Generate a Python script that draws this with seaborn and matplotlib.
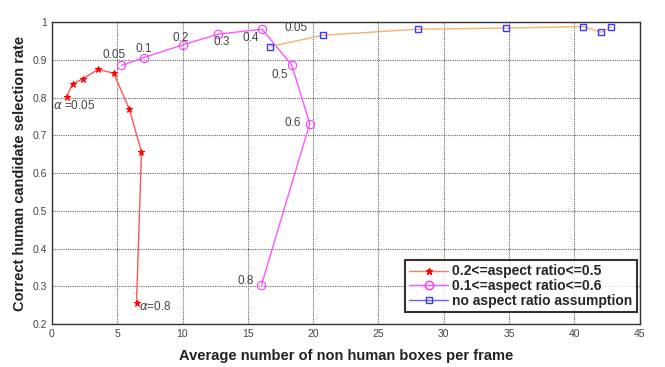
import matplotlib
matplotlib.use('Agg')
import matplotlib.pyplot as plt
import seaborn as sns
from matplotlib.lines import Line2D

# 0.2<=aspect ratio<=0.5
red_x = [1.12, 1.58, 2.40, 3.55, 4.74, 5.92, 6.86, 6.48]
red_y = [0.802, 0.836, 0.850, 0.875, 0.864, 0.770, 0.656, 0.257]

# 0.1<=aspect ratio<=0.6
mag_x = [5.33, 7.06, 10.05, 12.73, 16.09, 18.36, 19.74, 16.04]
mag_y = [0.885, 0.906, 0.940, 0.968, 0.981, 0.886, 0.731, 0.303]

# no aspect ratio assumption
blue_x = [16.70, 20.76, 28.03, 34.79, 40.65, 42.05, 42.82]
blue_y = [0.935, 0.965, 0.981, 0.984, 0.988, 0.973, 0.987]

labels = ['0.2<=aspect ratio<=0.5', '0.1<=aspect ratio<=0.6',
          'no aspect ratio assumption']

# threshold annotations (text, x, y)
notes = [('0.05', 3.9, 0.905), ('0.1', 6.4, 0.920), ('0.2', 9.2, 0.951),
         ('0.3', 12.4, 0.940), ('0.4', 14.6, 0.951), ('0.05', 17.8, 0.975),
         ('0.5', 16.8, 0.853), ('0.6', 17.8, 0.725), ('0.8', 14.2, 0.305),
         (r'$\alpha$ =0.05', 0.1, 0.770), (r'$\alpha$=0.8', 6.7, 0.237)]

sns.set_style('white')
plt.rcParams['font.family'] = ['Liberation Sans', 'DejaVu Sans']

fig = plt.figure(figsize=(6.65, 3.67), dpi=100)
ax = fig.add_axes([0.078, 0.117, 0.884, 0.823])

sns.lineplot(x=red_x, y=red_y, sort=False, ax=ax, color='#ff5555', lw=1,
             marker='*', markersize=4.5, markeredgecolor='red', markerfacecolor='red')
sns.lineplot(x=mag_x, y=mag_y, sort=False, ax=ax, color='#ff55ff', lw=1,
             marker='o', markersize=6, markeredgecolor='#ff33ff', markerfacecolor='none')
sns.lineplot(x=blue_x, y=blue_y, sort=False, ax=ax, color='#f8b070', lw=1,
             marker='s', markersize=5, markeredgecolor='#3a3aff', markerfacecolor='none',
             markeredgewidth=1)

for t, x, y in notes:
    ax.text(x, y, t, fontsize=8.5, color='#444444')

ax.set_xlim(0, 45)
ax.set_ylim(0.2, 1.0)
ax.set_xticks(range(0, 46, 5))
ax.set_yticks([0.2, 0.3, 0.4, 0.5, 0.6, 0.7, 0.8, 0.9, 1.0])
ax.set_yticklabels(['0.2', '0.3', '0.4', '0.5', '0.6', '0.7', '0.8', '0.9', '1'])
ax.tick_params(labelsize=7.5, colors='#444444', length=3, direction='in')
ax.grid(True, color='#666666', linestyle=(0, (1, 1)), linewidth=0.8)
for s in ax.spines.values():
    s.set_color('#333333')
    s.set_linewidth(1)

ax.set_xlabel('Average number of non human boxes per frame', fontsize=10.5,
              fontweight='bold', color='#222222', labelpad=7)
ax.set_ylabel('Correct human candidate selection rate', fontsize=10.5,
              fontweight='bold', color='#222222')

handles = [
    Line2D([], [], color='#ff7777', lw=1, marker='*', markersize=5,
           markeredgecolor='red', markerfacecolor='red'),
    Line2D([], [], color='#ff55ff', lw=1, marker='o', markersize=6,
           markeredgecolor='#ff33ff', markerfacecolor='none'),
    Line2D([], [], color='#6666ff', lw=1, marker='s', markersize=5,
           markeredgecolor='#3a3aff', markerfacecolor='none'),
]
leg = ax.legend(handles, labels, loc='lower right', bbox_to_anchor=(0.995, 0.04),
                prop={'weight': 'bold', 'size': 10}, frameon=True, fancybox=False,
                handlelength=2.8, handletextpad=0.3, labelspacing=0.05,
                borderpad=0.3, borderaxespad=0)
leg.get_frame().set_edgecolor('black')
leg.get_frame().set_linewidth(1.5)

fig.savefig('out.png', dpi=100)
